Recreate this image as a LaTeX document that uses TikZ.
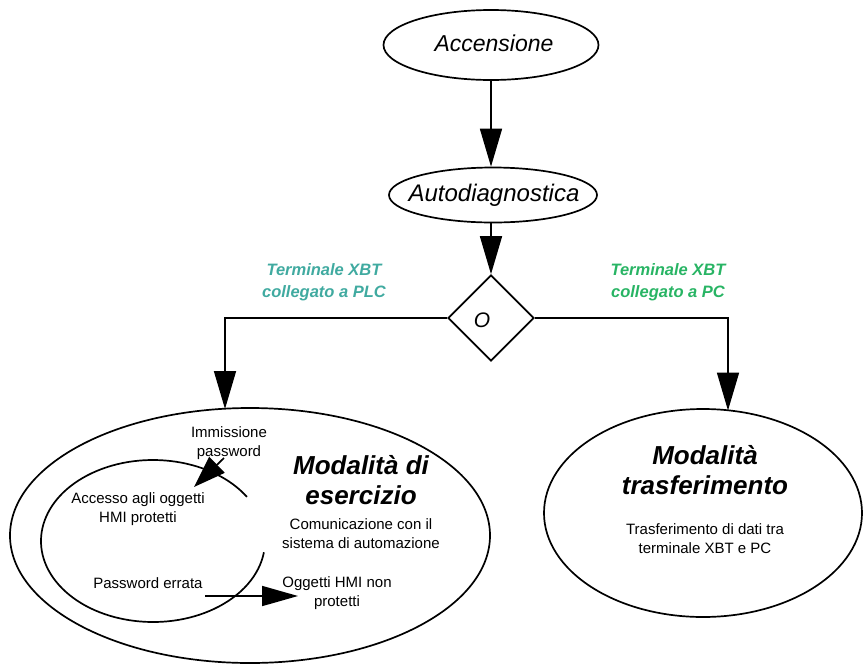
\documentclass[tikz,border=0pt]{standalone}
\usepackage{fontspec}
\setmainfont{Liberation Sans}
\usetikzlibrary{shapes.geometric,arrows.meta}

\definecolor{plcteal}{RGB}{64,170,160}
\definecolor{pcgreen}{RGB}{40,180,100}

\begin{document}
\begin{tikzpicture}[x=1pt,y=-1pt,line width=1.7pt,
  oval/.style={ellipse,draw,inner sep=0pt},
  bigarr/.style={-{Triangle[length=38pt,width=22pt]}},
  smallarr/.style={-{Triangle[length=32pt,width=22pt]}},
  title/.style={font=\fontsize{23}{26}\itshape\selectfont},
  mode/.style={font=\fontsize{26}{30}\bfseries\itshape\selectfont,align=center},
  cond/.style={font=\fontsize{16.5}{22}\bfseries\itshape\selectfont,align=center},
  note/.style={font=\fontsize{15}{19}\selectfont,align=center,inner sep=0pt},
]
\useasboundingbox (0,0) rectangle (863,665);

% start-up sequence
\node[oval,minimum width=215pt,minimum height=70pt] (acc) at (491,45) {};
\node[title] (acct) at (494,43) {Accensione};
\node[oval,minimum width=208pt,minimum height=55pt] (auto) at (493,195) {};
\node[title,font=\fontsize{24}{27}\itshape\selectfont] (autot) at (494,195) {Autodiagnostica};
\node[diamond,draw,aspect=1,minimum size=86pt,inner sep=0pt] (dia) at (491,318) {};
\node[font=\fontsize{21}{25}\itshape\selectfont] (o) at (482,320) {O};

% operating modes
\node[oval,minimum width=480pt,minimum height=255pt] (eser) at (250,535.5) {};
\node[oval,minimum width=318pt,minimum height=208pt] (trasf) at (703,513) {};

\coordinate (ltop) at (225,409);
\coordinate (rtop) at (728,410.5);

\draw[bigarr] (acc.south -| dia.north) -- (auto.north -| dia.north);
\draw[bigarr] (auto.south -| dia.north) -- (dia.north);
\draw[bigarr] (dia.west) -| (ltop);
\draw[bigarr] (dia.east) -| (rtop);

% branch conditions
\node[cond,text=plcteal] (plc) at (324,282) {Terminale XBT\\collegato a PLC};
\node[cond,text=pcgreen] (pc) at (668,282) {Terminale XBT\\collegato a PC};

% operating mode contents
\node[mode] (esert) at (361,480) {Modalità di\\esercizio};
\node[note] (comm) at (361,534) {Comunicazione con il\\sistema di automazione};

\draw (153,541) ++(-33:112 and 81) arc[start angle=-33,end angle=-352,x radius=112,y radius=81];
\coordinate (pwA) at (224,458);
\coordinate (pwB) at (194,487);
\draw[smallarr] (pwA) -- (pwB);
\node[note] (imm) at (229,443) {Immissione\\password};
\node[note] (acc2) at (138,509) {Accesso agli oggetti\\HMI  protetti};

\node[note] (err) at (148,583) {Password  errata};
\node[note] (ogg) at (337,593) {Oggetti HMI non\\protetti};
\coordinate (errEnd) at (298,596);
\draw[-{Triangle[length=36pt,width=20pt]}] (err.east |- errEnd) ++(2,0) -- (errEnd);

% transfer mode contents
\node[mode] (trasft) at (705,470) {Modalità\\trasferimento};
\node[note] (tr) at (705,539) {Trasferimento di dati tra\\terminale XBT e PC};
\end{tikzpicture}
\end{document}
